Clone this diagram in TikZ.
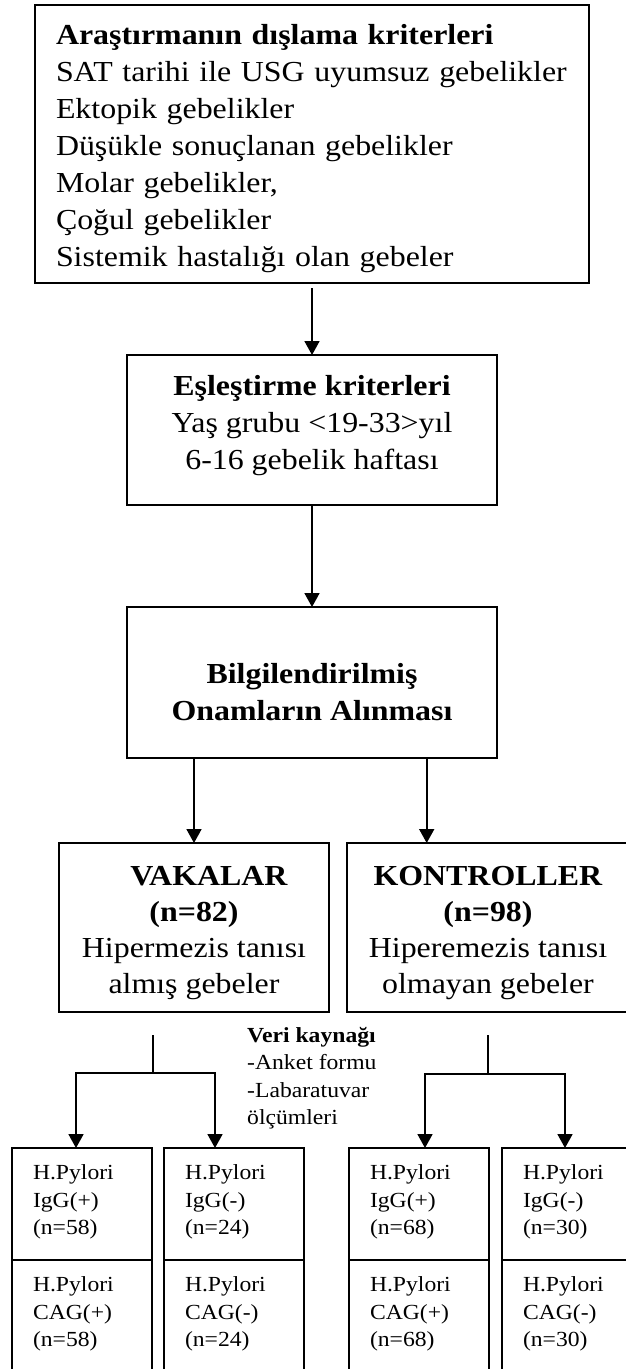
\documentclass[tikz,border=0pt]{standalone}
\usepackage{fontspec}
\setmainfont{Liberation Serif}[FakeStretch=1.1]
\usetikzlibrary{positioning, calc, arrows.meta}
\tikzset{box/.style={draw, line width=1.8pt, inner sep=0pt, outer sep=0pt}}
\tikzset{big/.style={font=\fontsize{29}{37}\selectfont}}
\tikzset{small/.style={font=\fontsize{21.5}{27.5}\selectfont}}
\tikzset{cell/.style={box, small, align=left, text width=98pt, inner xsep=21pt, minimum height=112pt}}
\tikzset{link/.style={line width=1.8pt}}
\tikzset{flow/.style={link, -{Triangle[length=14pt,width=15pt]}}}
\newcommand{\topfix}[1]{\rule{0pt}{#1pt}}
\newcommand{\botfix}[1]{\rule[-#1pt]{0pt}{#1pt}}

\begin{document}
\begin{tikzpicture}[x=1pt, y=1pt]
  \useasboundingbox (0,0) rectangle (626,-1369);

  \node[box, big, align=left, text width=512pt, inner xsep=21pt, minimum height=278pt] (excl) at (312,-144)
    {\topfix{34}\textbf{Araştırmanın dışlama kriterleri}\\ SAT tarihi ile USG uyumsuz gebelikler\\ Ektopik gebelikler\\
     Düşükle sonuçlanan gebelikler\\ Molar gebelikler,\\ Çoğul gebelikler\\ Sistemik hastalığı olan gebeler\botfix{12}};

  \node[box, big, align=center, minimum width=370pt, minimum height=150pt] (match) at (312,-430)
    {\topfix{22}\textbf{Eşleştirme kriterleri}\\ Yaş grubu <19-33>yıl\\ 6-16 gebelik haftası\botfix{18}};

  \node[box, big, align=center, minimum width=370pt, minimum height=151pt] (consent) at (312,-682.5)
    {\topfix{51}\textbf{Bilgilendirilmiş}\\ \textbf{Onamların Alınması}\botfix{12}};

  \node[box, big, font=\fontsize{29}{36}\selectfont, align=center, minimum width=270pt, minimum height=169pt] (vaka) at (194,-927.5)
    {\topfix{35}\hspace*{30pt}\textbf{VAKALAR}\\ \textbf{(n=82)}\\ Hipermezis tanısı\\ almış gebeler\botfix{12}};
  \node[box, big, font=\fontsize{29}{36}\selectfont, align=center, minimum width=282pt, minimum height=169pt] (kontrol) at (488,-927.5)
    {\topfix{35}\textbf{KONTROLLER}\\ \textbf{(n=98)}\\ Hiperemezis tanısı\\ olmayan gebeler\botfix{12}};

  \node[small, align=left, inner sep=0pt, anchor=west] (src) at (247,-1078.5)
    {\topfix{16}\textbf{Veri kaynağı}\\ -Anket formu\\ -Labaratuvar\\ ölçümleri\botfix{6}};

  % H.Pylori cells
  \node[cell] (g1) at (82,-1204) {\topfix{16}H.Pylori\\ IgG(+)\\ (n=58)\botfix{10}};
  \node[cell, right=12pt of g1] (g2) {\topfix{16}H.Pylori\\ IgG(-)\\ (n=24)\botfix{10}};
  \node[cell, right=45pt of g2] (g3) {\topfix{16}H.Pylori\\ IgG(+)\\ (n=68)\botfix{10}};
  \node[cell, right=13pt of g3] (g4) {\topfix{16}H.Pylori\\ IgG(-)\\ (n=30)\botfix{10}};
  \node[cell, below=0pt of g1] (c1) {\topfix{16}H.Pylori\\ CAG(+)\\ (n=58)\botfix{10}};
  \node[cell, below=0pt of g2] (c2) {\topfix{16}H.Pylori\\ CAG(-)\\ (n=24)\botfix{10}};
  \node[cell, below=0pt of g3] (c3) {\topfix{16}H.Pylori\\ CAG(+)\\ (n=68)\botfix{10}};
  \node[cell, below=0pt of g4] (c4) {\topfix{16}H.Pylori\\ CAG(-)\\ (n=30)\botfix{10}};

  \draw[flow, shorten <=5pt] (excl.south) -- (excl.south |- match.north);
  \draw[flow] (match.south) -- (match.south |- consent.north);
  \draw[flow] (consent.south -| vaka.north) -- (vaka.north);
  \coordinate (kx) at ($(consent.south west)!.81!(consent.south east)$);
  \draw[flow] (kx) -- (kx |- kontrol.north);

  % branches
  \coordinate (vs) at (153,-1035);
  \coordinate (vj) at (153,-1073);
  \coordinate (vl) at (76,-1073);
  \coordinate (vr) at (215,-1073);
  \draw[link] (vs) -- (vj);
  \draw[flow] (vj) -- (vl) -- (vl |- g1.north);
  \draw[flow] (vj) -- (vr) -- (vr |- g2.north);

  \coordinate (ks) at (488,-1035);
  \coordinate (kj) at (488,-1074);
  \coordinate (kl) at (425,-1074);
  \coordinate (kr) at (565,-1074);
  \draw[link] (ks) -- (kj);
  \draw[flow] (kj) -- (kl) -- (kl |- g3.north);
  \draw[flow] (kj) -- (kr) -- (kr |- g4.north);
\end{tikzpicture}
\end{document}
